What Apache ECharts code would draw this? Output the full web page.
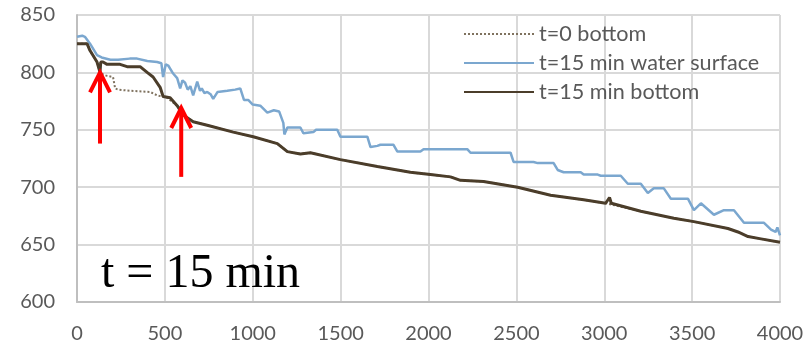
<!DOCTYPE html>
<html>
<head>
<meta charset="utf-8">
<script src="https://cdn.jsdelivr.net/npm/echarts@6/dist/echarts.min.js"></script>
<style>
  html, body { margin: 0; padding: 0; background: #fff; }
  #chart { width: 809px; height: 349px; }
</style>
</head>
<body>
<div id="chart"></div>
<script>
// Axis ticks
const xTicks = [0, 500, 1000, 1500, 2000, 2500, 3000, 3500, 4000];
const yTicks = [600, 650, 700, 750, 800, 850];

// Bed elevation at t = 0 (dotted)
const bottom0 = [
  [0, 825], [57, 825], [74, 819], [114, 809], [131, 800], [150, 798], [171, 797],
  [205, 796], [217, 786], [234, 785], [300, 784], [416, 783], [456, 780],
  [513, 778], [560, 772], [590, 769], [604, 763], [661, 757], [741, 754],
  [889, 748], [1003, 744], [1140, 738], [1197, 731], [1271, 729], [1328, 730],
  [1499, 724], [1709, 718], [1897, 713], [2011, 711], [2125, 709], [2182, 706],
  [2313, 705], [2507, 700], [2695, 693], [2883, 689], [3008, 686], [3208, 679],
  [3396, 673], [3510, 670], [3704, 664], [3761, 661], [3818, 657], [3892, 655],
  [4000, 652]
];

// Water surface at t = 15 min
const surface15 = [
  [0, 831], [30, 832], [45, 831], [74, 825], [114, 815], [140, 813], [190, 811],
  [234, 811], [300, 812], [342, 812], [400, 810], [456, 809], [480, 808],
  [490, 796], [505, 807], [519, 806], [547, 799], [570, 795], [587, 786],
  [600, 793], [615, 791], [630, 785], [645, 788], [661, 780], [684, 792],
  [700, 784], [710, 786], [725, 782], [741, 783], [760, 781], [775, 777],
  [800, 783], [855, 784], [900, 785], [929, 786], [950, 776], [974, 776],
  [1000, 772], [1043, 771], [1083, 765], [1120, 767], [1150, 766], [1174, 756],
  [1180, 746], [1197, 752], [1271, 752], [1288, 747], [1345, 748], [1360, 750],
  [1481, 750], [1499, 744], [1652, 744], [1670, 735], [1709, 736], [1726, 737],
  [1800, 737], [1823, 731], [1954, 731], [1972, 733], [2222, 733], [2239, 730],
  [2467, 730], [2484, 722], [2598, 722], [2621, 721], [2712, 721], [2735, 715],
  [2769, 713], [2866, 713], [2883, 711], [2963, 711], [2980, 710], [3094, 710],
  [3134, 703], [3208, 703], [3248, 695], [3282, 699], [3339, 699], [3379, 690],
  [3476, 690], [3510, 680], [3550, 686], [3624, 676], [3681, 680], [3738, 680],
  [3795, 669], [3852, 669], [3909, 669], [3949, 663], [3975, 661], [3985, 665],
  [4000, 658]
];

// Bed elevation at t = 15 min
const bottom15 = [
  [0, 825], [57, 825], [74, 819], [114, 809], [131, 800], [135, 809], [148, 809],
  [171, 807], [245, 807], [285, 805], [359, 805], [399, 800], [433, 796],
  [473, 787], [490, 779], [530, 778], [570, 771], [604, 763], [661, 757],
  [741, 754], [889, 748], [1003, 744], [1140, 738], [1197, 731], [1271, 729],
  [1328, 730], [1499, 724], [1709, 718], [1897, 713], [2011, 711], [2125, 709],
  [2182, 706], [2313, 705], [2507, 700], [2695, 693], [2883, 689], [3008, 686],
  [3030, 691], [3040, 686], [3208, 679], [3396, 673], [3510, 670], [3704, 664],
  [3761, 661], [3818, 657], [3892, 655], [4000, 652]
];

// Red arrows: x position, tip elevation, tail elevation
const arrowX = [131, 593];
const arrowTip = [800, 769];
const arrowTail = [738, 709];

const seriesNames = ['t=0 bottom', 't=15 min water surface', 't=15 min bottom'];
const annotation = 't = 15 min';

const chart = echarts.init(document.getElementById('chart'), null, { renderer: 'canvas' });

const labelStyle = { color: '#595959', fontFamily: 'Lato', fontSize: 20 };
const gridLine = { show: true, lineStyle: { color: '#d9d9d9', width: 2 } };

chart.setOption({
  animation: false,
  backgroundColor: '#fff',
  grid: { left: 77, right: 29, top: 15, bottom: 47, containLabel: false },
  legend: {
    data: seriesNames,
    orient: 'vertical',
    left: 458,
    top: 18,
    itemWidth: 70,
    itemHeight: 14,
    itemGap: 7,
    itemStyle: { opacity: 0, borderWidth: 0 },
    textStyle: { color: '#595959', fontFamily: 'Lato', fontSize: 21.6 }
  },
  xAxis: {
    type: 'value',
    min: xTicks[0],
    max: xTicks[xTicks.length - 1],
    interval: 500,
    axisLine: { show: true, lineStyle: { color: '#bfbfbf', width: 2 } },
    axisTick: { show: false },
    axisLabel: Object.assign({ margin: 22, formatter: v => String(v) }, labelStyle),
    splitLine: gridLine
  },
  yAxis: {
    type: 'value',
    min: yTicks[0],
    max: yTicks[yTicks.length - 1],
    interval: 50,
    axisLine: { show: true, lineStyle: { color: '#bfbfbf', width: 2 } },
    axisTick: { show: false },
    axisLabel: Object.assign({ margin: 22, formatter: v => String(v) }, labelStyle),
    splitLine: gridLine
  },
  series: [
    {
      name: seriesNames[0],
      type: 'line',
      data: bottom0,
      showSymbol: false,
      symbol: 'none',
      color: '#7f725f',
      lineStyle: { color: '#7f725f', width: 2, type: [2, 2] },
      z: 2
    },
    {
      name: seriesNames[1],
      type: 'line',
      data: surface15,
      showSymbol: false,
      symbol: 'none',
      color: '#7ba7cf',
      lineStyle: { color: '#7ba7cf', width: 2.5 },
      z: 3
    },
    {
      name: seriesNames[2],
      type: 'line',
      data: bottom15,
      showSymbol: false,
      symbol: 'none',
      color: '#4b3d2a',
      lineStyle: { color: '#4b3d2a', width: 3 },
      z: 4
    },
    {
      type: 'custom',
      z: 10,
      data: arrowX.map((x, i) => [x, arrowTip[i], arrowTail[i]]),
      renderItem: function (params, api) {
        const tip = api.coord([api.value(0), api.value(1)]);
        const tail = api.coord([api.value(0), api.value(2)]);
        const red = '#ff0000';
        return {
          type: 'group',
          children: [
            {
              type: 'line',
              shape: { x1: tail[0], y1: tail[1], x2: tip[0], y2: tip[1] + 2 },
              style: { stroke: red, lineWidth: 4 }
            },
            {
              type: 'polyline',
              shape: { points: [[tip[0] - 10, tip[1] + 20], [tip[0], tip[1]], [tip[0] + 10, tip[1] + 20]] },
              style: { stroke: red, lineWidth: 4, fill: null, lineJoin: 'miter' }
            }
          ]
        };
      }
    }
  ],
  graphic: [
    {
      type: 'text',
      left: 101,
      top: 250,
      style: {
        text: annotation,
        font: '48px "Liberation Serif"',
        fill: '#000'
      },
      z: 20
    }
  ]
});
</script>
</body>
</html>
